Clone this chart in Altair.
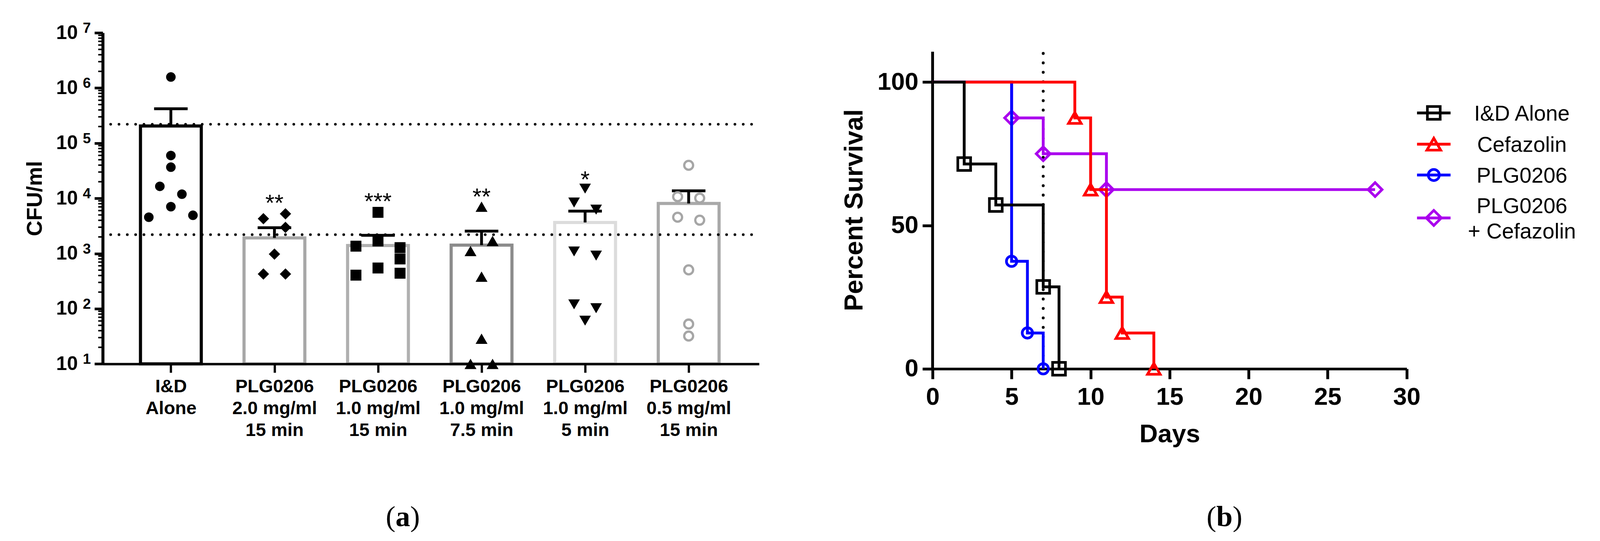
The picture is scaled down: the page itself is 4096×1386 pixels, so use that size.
import altair as alt
import pandas as pd

S = 0.964
FONT = "Liberation Sans"
SERIF = "Liberation Serif"

# ---------------- panel (a) data ----------------
group_labels = ["I&D|Alone", "PLG0206|2.0 mg/ml|15 min", "PLG0206|1.0 mg/ml|15 min",
                "PLG0206|1.0 mg/ml|7.5 min", "PLG0206|1.0 mg/ml|5 min", "PLG0206|0.5 mg/ml|15 min"]
bar_mean = [2.05e5, 1.92e3, 1.40e3, 1.42e3, 3.66e3, 8.08e3]
bar_sem = [2.15e5, 1.02e3, 7.4e2, 1.13e3, 2.2e3, 5.6e3]
bar_stroke = ["#000000", "#a7a7a7", "#b0b0b0", "#8c8c8c", "#dcdcdc", "#a9a9a9"]

pts_values = [
    [1.58e6, 5.97e4, 3.67e4, 1.65e4, 1.19e4, 7.06e3, 4.55e3, 4.93e3],
    [4.28e3, 5.25e3, 2.98e3, 977, 425, 425],
    [5.58e3, 1.36e3, 1.69e3, 1.28e3, 798, 547, 406, 440],
    [7.06e3, 1.69e3, 1.11e3, 381, 28.6, 10, 10],
    [1.50e4, 8.4e3, 6.24e3, 1.09e3, 918, 120, 102, 60.8],
    [3.97e4, 1.07e4, 1.01e4, 4.55e3, 4.02e3, 506, 52.8, 32],
]
pts_lanes = [
    [0, 0, 0, -1, 1, 0, -2, 2],
    [-1, 1, 1, 0, -1, 1],
    [0, -2, 0, 2, 2, 0, -2, 2],
    [0, 1, -1, 0, 0, -1, 1],
    [0, -1, 1, -1, 1, -1, 1, 0],
    [0, -1, 1, -1, 1, 0, 0, 0],
]
group_shapes = ["circle", "diamond", "square", "triangle-up", "triangle-down", "circle"]
group_filled = [True, True, True, True, True, False]
group_pt_color = ["#000000", "#000000", "#000000", "#000000", "#000000", "#a6a6a6"]
group_pt_size = [600, 841, 784, 930, 880, 520]

sig_group = [1, 2, 3, 4]
sig_text = ["**", "***", "**", "*"]
sig_value = [1.05e4, 1.12e4, 1.37e4, 2.81e4]
ref_levels = [2.2e5, 2.2e3]
decades = [1, 2, 3, 4, 5, 6, 7]

# ---------------- panel (b) data ----------------
km_series = ["I&D Alone", "Cefazolin", "PLG0206", "PLG0206 + Cefazolin"]
km_days = [[0, 2, 4, 7, 8], [0, 9, 10, 11, 12, 14], [0, 5, 6, 7], [0, 5, 7, 11, 28]]
km_surv = [[100, 71.43, 57.14, 28.57, 0], [100, 87.5, 62.5, 25, 12.5, 0],
           [100, 37.5, 12.5, 0], [100, 87.5, 75, 62.5, 62.5]]
km_color = ["#000000", "#ff0000", "#0000ff", "#aa00ee"]
km_shape = ["square", "triangle-up", "circle", "diamond"]
km_size = [1075, 1050, 707, 1275]
legend_lines = [["I&D Alone"], ["Cefazolin"], ["PLG0206"], ["PLG0206", "+ Cefazolin"]]
cutoff_day = 7

# ================= panel (a) =================
WA = 1743 * S
HA = 880 * S
SXA = alt.Scale(domain=[-0.658, 5.68], nice=False, zero=False)
SYA = alt.Scale(type="log", domain=[10, 1e7], nice=False)
label_js = "[" + ",".join("'" + t + "'" for t in group_labels) + "]"
AXA = alt.Axis(values=list(range(6)), labelExpr=f"split({label_js}[datum.value], '|')",
               labelFont=FONT, labelFontSize=47, labelFontWeight="bold", labelColor="black",
               labelLineHeight=56, labelPadding=13, labelAngle=0, labelBaseline="top",
               labelOverlap=False, labelFlush=False, labelLimit=1000,
               tickSize=23 * S, tickWidth=6 * S, tickColor="black",
               domainColor="black", domainWidth=6.5 * S, grid=False, title=None, zindex=1)
AYA = alt.Axis(values=[10 ** d for d in decades], labelExpr="'10'",
               labelFont=FONT, labelFontSize=50, labelFontWeight="bold", labelColor="black",
               labelPadding=43, labelOverlap=False, labelFlush=False, labelLimit=1000,
               tickSize=22 * S, tickWidth=7 * S, tickColor="black",
               domainColor="black", domainWidth=8 * S, grid=False,
               title="CFU/ml", titleFont=FONT, titleFontSize=55, titleFontWeight="bold",
               titleColor="black", titleX=-(272 - 92) * S, titleY=(527 - 87) * S,
               titleBaseline="middle", titleAngle=-90, zindex=1)


def XA(f):
    return alt.X(f, type="quantitative", scale=SXA, axis=AXA)


def YA(f):
    return alt.Y(f, type="quantitative", scale=SYA, axis=AYA)


HALF_BAR = 0.2936
HALF_CAP = 0.162
LANE = 0.1065

df_bars = pd.DataFrame({"idx": list(range(6)), "mean": bar_mean, "sem": bar_sem,
                        "cat": [str(i) for i in range(6)]})
bars = alt.Chart(df_bars).transform_calculate(
    xl=f"datum.idx - {HALF_BAR}", xr=f"datum.idx + {HALF_BAR}", base="10"
).mark_rect(fill="white", strokeWidth=8.3 * S).encode(
    x=XA("xl"), x2=alt.X2("xr"), y=YA("base"), y2=alt.Y2("mean"),
    stroke=alt.Stroke("cat:N", scale=alt.Scale(domain=[str(i) for i in range(6)], range=bar_stroke),
                      legend=None))

df_ref = pd.DataFrame({"v": ref_levels})
dotted = alt.Chart(df_ref).mark_rule(color="black", strokeWidth=7 * S, strokeCap="round",
                                     strokeDash=[0.1, 22 * S]).encode(
    y=YA("v"), x=alt.value(21 * S), x2=alt.value(WA - 18 * S))

err_v = alt.Chart(df_bars).transform_calculate(top="datum.mean + datum.sem").mark_rule(
    color="black", strokeWidth=7.5 * S).encode(x=XA("idx"), y=YA("mean"), y2=alt.Y2("top"))
err_c = alt.Chart(df_bars).transform_calculate(
    top="datum.mean + datum.sem", cl=f"datum.idx - {HALF_CAP}", cr=f"datum.idx + {HALF_CAP}"
).mark_rule(color="black", strokeWidth=7.5 * S).encode(x=XA("cl"), x2=alt.X2("cr"), y=YA("top"))

point_layers = []
for g in range(6):
    dfp = pd.DataFrame({"idx": [g] * len(pts_values[g]), "v": pts_values[g], "lane": pts_lanes[g]})
    kw = dict(shape=group_shapes[g], filled=group_filled[g], size=group_pt_size[g],
              color=group_pt_color[g], opacity=1)
    if not group_filled[g]:
        kw["strokeWidth"] = 6 * S
    point_layers.append(
        alt.Chart(dfp).transform_calculate(xp=f"datum.idx + datum.lane * {LANE}")
        .mark_point(**kw).encode(x=XA("xp"), y=YA("v")))

df_sig = pd.DataFrame({"idx": sig_group, "v": sig_value, "t": sig_text})
stars = alt.Chart(df_sig).mark_text(font=FONT, fontSize=60, color="black", baseline="alphabetic",
                                    dy=34.8).encode(x=XA("idx"), y=YA("v"), text="t:N")

minor_vals = [k * 10 ** d for d in decades[:-1] for k in range(2, 10)]
df_minor = pd.DataFrame({"v": minor_vals})
minor = alt.Chart(df_minor).mark_rule(color="black", strokeWidth=4 * S).encode(
    y=YA("v"), x=alt.value(-12 * S), x2=alt.value(0))

df_exp = pd.DataFrame({"v": [10 ** d for d in decades], "e": [str(d) for d in decades]})
expo = alt.Chart(df_exp).mark_text(font=FONT, fontSize=37, fontWeight="bold", color="black",
                                   align="left", baseline="middle", dy=-11).encode(
    y=YA("v"), x=alt.value(-(272 - 219) * S), text="e:N")

one = pd.DataFrame({"k": [0]})


def caption(letter, cx, bw):
    y = (1398 - 87) * S
    return [
        alt.Chart(one).mark_text(text="(", font=SERIF, fontSize=75, align="right",
                                 baseline="alphabetic", color="black").encode(
            x=alt.value(cx - bw / 2), y=alt.value(y)),
        alt.Chart(one).mark_text(text=letter, font=SERIF, fontSize=75, fontWeight="bold",
                                 align="center", baseline="alphabetic", color="black").encode(
            x=alt.value(cx), y=alt.value(y)),
        alt.Chart(one).mark_text(text=")", font=SERIF, fontSize=75, align="left",
                                 baseline="alphabetic", color="black").encode(
            x=alt.value(cx + bw / 2), y=alt.value(y)),
    ]


anchor_a = alt.Chart(one).mark_rule(color="white", strokeWidth=0.2).encode(
    x=alt.value(-272 * S + 8), x2=alt.value(-272 * S + 8.2),
    y=alt.value(-87 * S + 8), y2=alt.value(-87 * S + 8.2))

panel_a = alt.layer(bars, dotted, err_v, err_c, *point_layers, stars, minor, expo,
                    *caption("a", (1069 - 272) * S, 37.5), anchor_a).properties(width=WA, height=HA)

# ================= panel (b) =================
WB = 1259 * S
HB = (980 - 87) * S
SXB = alt.Scale(domain=[0, 30], nice=False, zero=False)
SYB = alt.Scale(domain=[0, (980 - 87) / 7.62], nice=False, zero=True)
AXB = alt.Axis(values=[0, 5, 10, 15, 20, 25, 30], labelFont=FONT, labelFontSize=63,
               labelFontWeight="bold", labelColor="black", labelPadding=16, labelFlush=False,
               labelOverlap=False, tickSize=27 * S, tickWidth=7.5 * S, tickColor="black",
               domainColor="black", domainWidth=7 * S, grid=False,
               title="Days", titleFont=FONT, titleFontSize=65, titleFontWeight="bold",
               titleColor="black", titleX=WB / 2, titleY=(1175 - 980) * S,
               titleBaseline="alphabetic")
AYB = alt.Axis(values=[0, 50, 100], domain=False, labelFont=FONT, labelFontSize=63,
               labelFontWeight="bold", labelColor="black", labelPadding=10.5, labelFlush=False,
               labelOverlap=False, tickSize=27 * S, tickWidth=7.5 * S, tickColor="black",
               grid=False, title="Percent Survival", titleFont=FONT, titleFontSize=66,
               titleFontWeight="bold", titleColor="black", titleX=-(2475 - 2268) * S,
               titleY=(558 - 87) * S, titleBaseline="middle", titleAngle=-90)


def XB(f):
    return alt.X(f, type="quantitative", scale=SXB, axis=AXB)


def YB(f):
    return alt.Y(f, type="quantitative", scale=SYB, axis=AYB)


df_yaxis = pd.DataFrame({"d": [0], "lo": [0], "hi": [110.6]})
yline = alt.Chart(df_yaxis).mark_rule(color="black", strokeWidth=7.5 * S).encode(
    x=XB("d"), y=YB("lo"), y2=alt.Y2("hi"))

df_cut = pd.DataFrame({"d": [cutoff_day], "lo": [110], "hi": [0]})
cut = alt.Chart(df_cut).mark_rule(color="black", strokeWidth=7.7 * S, strokeCap="round",
                                  strokeDash=[0.1, 25 * S]).encode(
    x=XB("d"), y=YB("lo"), y2=alt.Y2("hi"))

km_layers = []
for i in [3, 2, 1, 0]:
    dfk = pd.DataFrame({"day": km_days[i], "surv": km_surv[i]})
    km_layers.append(alt.Chart(dfk).mark_line(interpolate="step-after", color=km_color[i],
                                              strokeWidth=7.5 * S, strokeJoin="miter",
                                              strokeCap="butt").encode(x=XB("day"), y=YB("surv")))
    dfm = pd.DataFrame({"day": km_days[i][1:], "surv": km_surv[i][1:]})
    km_layers.append(alt.Chart(dfm).mark_point(shape=km_shape[i], filled=False, size=km_size[i],
                                               strokeWidth=7 * S, color=km_color[i], opacity=1)
                     .encode(x=XB("day"), y=YB("surv")))

leg_layers = []
leg_cx = (3806 - 2475) * S
leg_half = 44.5 * S
leg_rows = [(300 - 87) * S, (383 - 87) * S, (465 - 87) * S, (579 - 87) * S]
leg_tx = (4040 - 2475) * S
leg_line_gap = (612 - 545) * S
leg_sizes = [1075, 1250, 800, 1500]
for i in range(4):
    ry = leg_rows[i]
    leg_layers.append(alt.Chart(one).mark_rule(color=km_color[i], strokeWidth=7.5 * S).encode(
        x=alt.value(leg_cx - leg_half), x2=alt.value(leg_cx + leg_half), y=alt.value(ry)))
    leg_layers.append(alt.Chart(one).mark_point(shape=km_shape[i], filled=False, size=leg_sizes[i],
                                                strokeWidth=7 * S, color=km_color[i], opacity=1)
                      .encode(x=alt.value(leg_cx), y=alt.value(ry)))
    lines = legend_lines[i]
    n = len(lines)
    for j, t in enumerate(lines):
        ty = ry + (j - (n - 1) / 2) * leg_line_gap
        leg_layers.append(alt.Chart(one).mark_text(text=t, font=FONT, fontSize=55, color="black",
                                                   align="center", baseline="middle", dy=3)
                          .encode(x=alt.value(leg_tx), y=alt.value(ty)))

panel_b = alt.layer(yline, cut, *km_layers, *leg_layers,
                    *caption("b", (3250 - 2475) * S, 41.7)).properties(width=WB, height=HB)

chart = alt.hconcat(panel_a, panel_b, spacing=(2475 - 2015) * S, bounds="flush").properties(
    padding=0, background="white").configure_view(stroke=None)

chart.save("out.html", embed_options={"renderer": "svg", "actions": False})
